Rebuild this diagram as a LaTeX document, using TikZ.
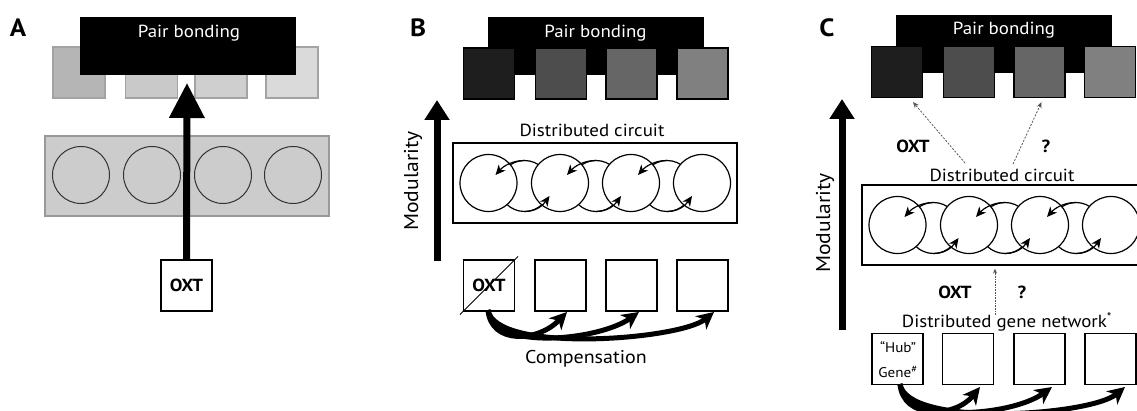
\documentclass[tikz,border=0pt]{standalone}
\usepackage{fontspec}
\setmainfont[FakeStretch=1.08]{PT Sans}
\usetikzlibrary{arrows.meta}

\definecolor{paleA}{HTML}{B5B5B5}
\definecolor{paleB}{HTML}{C9C9C9}
\definecolor{paleC}{HTML}{CFCFCF}
\definecolor{paleD}{HTML}{DADADA}
\definecolor{paleEdge}{HTML}{A3A3A3}
\definecolor{darkA}{HTML}{1E1E1E}
\definecolor{darkB}{HTML}{4D4D4D}
\definecolor{darkC}{HTML}{666666}
\definecolor{darkD}{HTML}{808080}
\definecolor{slab}{HTML}{CCCCCC}
\definecolor{slabEdge}{HTML}{999999}
\definecolor{hint}{HTML}{555555}

\tikzset{
  panel/.style={font=\bfseries\fontsize{25}{25}\selectfont, inner sep=0pt},
  ttl/.style={font=\fontsize{17.5}{20}\selectfont, inner sep=0pt},
  big/.style={font=\fontsize{18.5}{22}\selectfont, inner sep=0pt},
  axis/.style={font=\fontsize{20}{22}\selectfont, inner sep=0pt},
  bold/.style={font=\bfseries\fontsize{17.5}{20}\selectfont, inner sep=0pt},
  topbar/.style={fill=black, draw=black, minimum width=215pt, minimum height=57pt, inner sep=0pt},
  block/.style={draw=black, line width=1.2pt, minimum width=51pt, minimum height=51pt, inner sep=0pt, fill=white},
  paleblock/.style={draw=paleEdge, line width=1.2pt, minimum width=52pt, minimum height=51pt, inner sep=0pt},
  ring/.style={draw=black, line width=1.2pt},
  looparrow/.style={ring, -{Stealth[length=10pt,width=9pt,inset=3pt]}},
  bigarrow/.style={line width=7pt, -{Triangle[length=35pt,width=34pt]}},
  modarrow/.style={line width=7pt, -{Triangle[length=20pt,width=24pt]}},
  comp/.style={line width=5pt, -{Stealth[length=17pt,width=17pt,inset=5pt]}},
  hintdash/.style={draw=hint, line width=0.8pt, dash pattern=on 2pt off 1.5pt, -{Stealth[length=6pt,width=5pt]}},
  hintdot/.style={draw=hint, line width=0.8pt, dash pattern=on 0.8pt off 0.8pt, -{Stealth[length=5pt,width=4pt]}},
  % a row of four cells linked by three feedback loops
  loops/.pic={
    \foreach \c in {36,107.5,178.5}
      \draw[ring] (\c,3) circle[radius=25.5];
    \foreach \c in {0,71.5,142.5,213.5}
      \draw[ring, fill=white] (\c,0) circle[radius=28.5];
    \foreach \c in {36,107.5,178.5} {
      \draw[looparrow] (\c,-22.5) .. controls (\c-12,-22.5) and (\c-21,-17) .. (\c-29,-8);
      \draw[looparrow] (\c,28.5) .. controls (\c+11,28.5) and (\c+18,23) .. (\c+25,13);
    }
  }
}

\begin{document}
\begin{tikzpicture}[x=1pt,y=-1pt]
\useasboundingbox (0,0) rectangle (1137,411);

% ---------- A: a single module ----------
\node[panel] (labA) at (18,28) {A};
\node[paleblock, fill=paleA] (pa1) at (79,72.5) {};
\node[paleblock, fill=paleB] (pa2) at (151.5,72.5) {};
\node[paleblock, fill=paleC] (pa3) at (221,72.5) {};
\node[paleblock, fill=paleD] (pa4) at (292,72.5) {};
\node[topbar] (barA) at (187.5,45.5) {};
\node[ttl, text=white] (pbA) at (189,33) {Pair bonding};

\node[draw=slabEdge, fill=slab, line width=1.2pt, minimum width=284pt, minimum height=80pt, inner sep=0pt] (slabA) at (187,176) {};
\foreach \c in {81,152,223,293}
  \draw[draw=black!80, line width=1pt] (\c,175) circle[radius=28.5];

\node[block] (oxtA) at (186.5,285.5) {};
\node[bold] at (oxtA.center) {OXT};
\coordinate (tipA) at (187,83);
\draw[bigarrow] (oxtA.north) -- (tipA);

% ---------- B: distributed circuit with compensation ----------
\node[panel] (labB) at (418,28) {B};
\node[topbar] (barB) at (595.5,46) {};
\node[ttl, text=white] (pbB) at (595.5,33) {Pair bonding};
\node[block, fill=darkA] (qb1) at (489,73.5) {};
\node[block, fill=darkB] (qb2) at (561,73.5) {};
\node[block, fill=darkC] (qb3) at (631.5,73.5) {};
\node[block, fill=darkD] (qb4) at (702.5,73.5) {};

\coordinate (modBbase) at (437,261);
\coordinate (modBtip) at (437,100);
\draw[modarrow] (modBbase) -- (modBtip);
\node[axis, rotate=90] (modB) at (413,181) {Modularity};

\node[ttl] (dcB) at (592,130) {Distributed circuit};
\node[draw=black, line width=1.2pt, minimum width=284pt, minimum height=80pt, inner sep=0pt] (circB) at (595,183) {};
\pic at (488.5,183) {loops};

\node[block] (gb1) at (489,285.5) {};
\node[block] (gb2) at (560.5,285.5) {};
\node[block] (gb3) at (631.5,285.5) {};
\node[block] (gb4) at (702.5,285.5) {};
\node[bold] (oxtB) at (gb1.center) {OXT};
\draw[line width=1pt] ([shift={(-3,3)}]gb1.south west) -- ([shift={(3,-3)}]gb1.north east);

\coordinate (cbs) at (488,310);
\coordinate (cb2) at (567,312);
\coordinate (cb3) at (639,312);
\coordinate (cb4) at (714,312);
\draw[comp] (cbs) .. controls (491,345) and (538,342) .. (cb2);
\draw[comp] (cbs) .. controls (493,352) and (600,340) .. (cb3);
\draw[comp] (cbs) .. controls (495,354) and (680,340) .. (cb4);
\node[big] (compB) at (586,359) {Compensation};

% ---------- C: distributed gene network ----------
\node[panel] (labC) at (827,28) {C};
\node[topbar] (barC) at (1004,43.5) {};
\node[ttl, text=white] (pbC) at (1004,30) {Pair bonding};
\node[block, fill=darkA] (qc1) at (897,72) {};
\node[block, fill=darkB] (qc2) at (969,72) {};
\node[block, fill=darkC] (qc3) at (1039.5,72) {};
\node[block, fill=darkD] (qc4) at (1110,72) {};

\coordinate (modCbase) at (842,330);
\coordinate (modCtip) at (842,99);
\draw[modarrow] (modCbase) -- (modCtip);
\node[axis, rotate=90] (modC) at (825,223) {Modularity};

\coordinate (dc1) at (965,163);
\coordinate (dc2) at (1013,164);
\draw[hintdash] (dc1) -- ([shift={(16,4)}]qc1.south);
\draw[hintdash] (dc2) -- ([shift={(2,4)}]qc3.south);
\node[bold] (oxtC1) at (913,146) {OXT};
\node[bold] (qC1) at (1046,146) {?};

\node[ttl] (dcC) at (1002,175) {Distributed circuit};
\begin{scope}
  \clip (0,0) rectangle (1137,411);
  \node[draw=black, line width=1.2pt, minimum width=284pt, minimum height=80pt, inner sep=0pt] (circC) at (1004,225) {};
  \pic at (897.5,225) {loops};
\end{scope}

\coordinate (gnC) at (995,315);
\draw[hintdot] (gnC) -- ([shift={(0,3)}]circC.south -| gnC);
\node[bold] (oxtC2) at (955,292) {OXT};
\node[bold] (qC2) at (1022,292) {?};
\node[ttl] (dgn) at (1007,322) {Distributed gene network\textsuperscript{*}};

\node[block] (hc1) at (897.5,359) {};
\node[block] (hc2) at (968,359) {};
\node[block] (hc3) at (1039.5,359) {};
\node[block] (hc4) at (1110.5,359) {};
\node[font=\fontsize{14}{16}\selectfont, inner sep=0pt] (hub) at (898,347) {“Hub”};
\node[font=\fontsize{14}{16}\selectfont, inner sep=0pt] (gene) at (898,372) {Gene\textsuperscript{\#}};

\coordinate (ccs) at (900,384);
\coordinate (cc2) at (980,387);
\coordinate (cc3) at (1052,387);
\coordinate (cc4) at (1125,387);
\draw[comp] (ccs) .. controls (903,420) and (955,418) .. (cc2);
\draw[comp] (ccs) .. controls (905,425) and (1012,416) .. (cc3);
\draw[comp] (ccs) .. controls (907,428) and (1090,416) .. (cc4);
\end{tikzpicture}
\end{document}
